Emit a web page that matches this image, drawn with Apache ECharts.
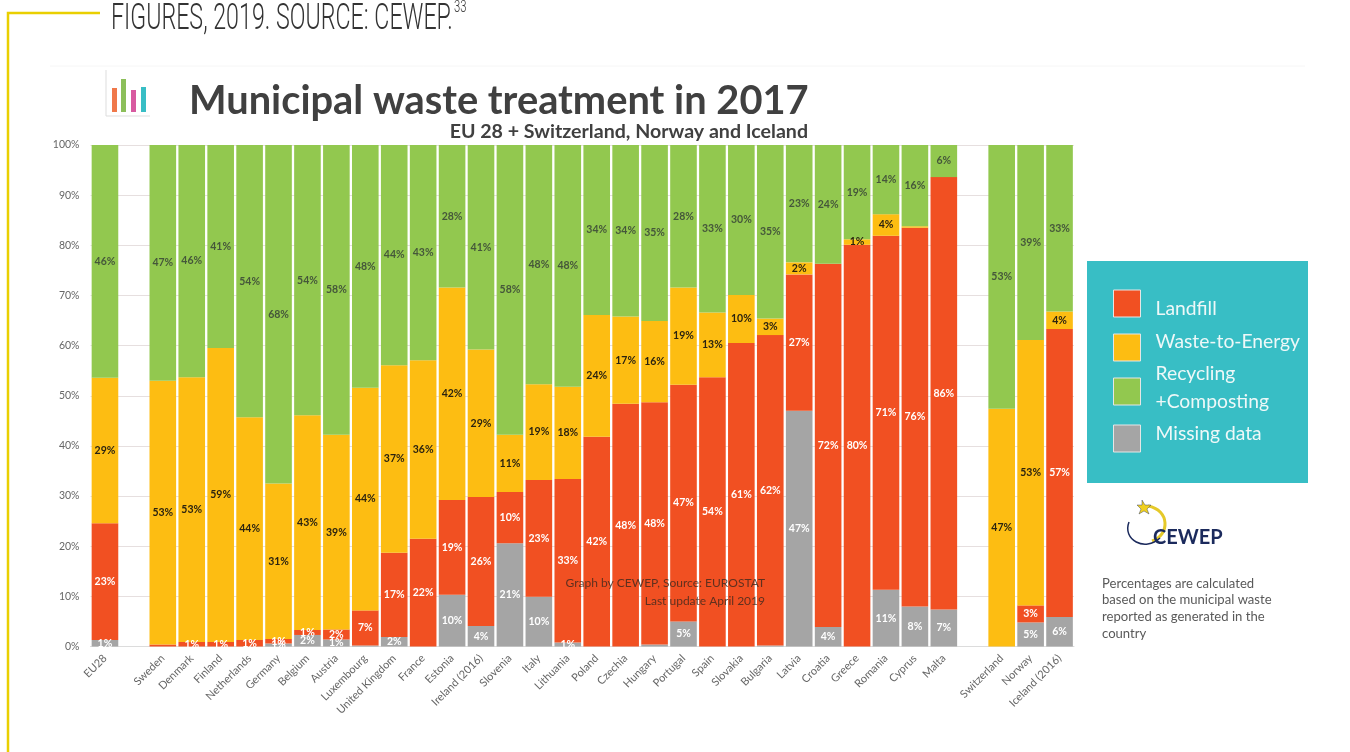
<!DOCTYPE html>
<html><head><meta charset="utf-8">
<style>html,body{margin:0;padding:0;background:#fff}#c{width:1350px;height:752px}</style>
<script src="https://cdn.jsdelivr.net/npm/echarts@6/dist/echarts.min.js"></script>
</head><body><div id="c"></div>
<script>
const categories = ['EU28','','Sweden','Denmark','Finland','Netherlands','Germany','Belgium','Austria','Luxembourg','United Kingdom','France','Estonia','Ireland (2016)','Slovenia','Italy','Lithuania','Poland','Czechia','Hungary','Portugal','Spain','Slovakia','Bulgaria','Latvia','Croatia','Greece','Romania','Cyprus','Malta','','Switzerland','Norway','Iceland (2016)'];
const missing = [1.3,null,0,0,0,0,0.6,2.3,1.4,0.2,1.9,0,10.3,4.1,20.6,9.9,0.8,0,0,0.4,5.0,0,0,0.2,47.0,3.9,0,11.3,8.0,7.4,null,0,4.8,5.9];
const landfill = [23.3,null,0.4,0.9,0.9,1.3,0.9,1.0,2.0,7.0,16.8,21.5,18.9,25.7,10.2,23.3,32.6,41.8,48.4,48.3,47.2,53.7,60.5,61.9,27.2,72.4,80.1,70.6,75.5,86.2,null,0,3.4,57.4];
const wasteToEnergy = [29.0,null,52.6,52.8,58.6,44.4,31.0,42.8,38.8,44.4,37.4,35.6,42.4,29.4,11.4,19.1,18.4,24.3,17.4,16.2,19.4,12.9,9.6,3.3,2.4,0,1.1,4.3,0.3,0,null,47.4,52.9,3.5];
const recycling = [46.4,null,47.0,46.3,40.5,54.3,67.5,53.9,57.8,48.4,43.9,42.9,28.4,40.8,57.8,47.7,48.2,33.9,34.2,35.1,28.4,33.4,29.9,34.6,23.4,23.7,18.8,13.8,16.2,6.4,null,52.6,38.9,33.2];
const yTicksMax = 100, yStep = 10;
const seriesNames = {missing:'Missing data',landfill:'Landfill',wte:'Waste-to-Energy',rec:'Recycling\n+Composting'};
const colors = {missing:'#a5a5a5',landfill:'#f15022',wte:'#fdbd12',rec:'#92c84f'};

const LF = 'Lato, "Open Sans", sans-serif';
function bar(name,data,color,labelColor){
  return {name,type:'bar',stack:'t',data,barCategoryGap:'8%',itemStyle:{color},
    label:{show:true,position:'inside',offset:[0,1],fontFamily:LF,fontSize:10.5,fontWeight:'bold',color:labelColor,
      formatter:p=>{const r=Math.round(p.value);return r>=1?r+'%':'';}},
    labelLayout:{hideOverlap:false},emphasis:{disabled:true}};
}
function leg(name,top,pad,extra){
  return {show:true,data:[name],orient:'vertical',left:1113,top,padding:0,itemWidth:27,itemHeight:27,selectedMode:false,icon:'rect',
    itemStyle:{borderColor:'#e6e6e6',borderWidth:1},
    formatter:n=>n.split('\n').map(s=>'{t|'+s+'}').join('\n')+(extra?'\n{b| }':''),
    textStyle:{rich:{t:{color:'#eef8f8',fontFamily:LF,fontSize:19.3,lineHeight:28,padding:pad},b:{fontSize:1,lineHeight:8}}}};
}
const chart = echarts.init(document.getElementById('c'));
chart.setOption({
  animation:false,backgroundColor:'#fff',
  title:[
    {text:'Municipal waste treatment in 2017',left:184,top:76,textStyle:{fontFamily:LF,fontSize:39.8,fontWeight:'bold',color:'#404040'}},
    {text:'EU 28 + Switzerland, Norway and Iceland',right:537,top:117,textStyle:{fontFamily:LF,fontSize:19.6,fontWeight:'bold',color:'#404040'}}
  ],
  legend:[
    leg(seriesNames.landfill,289,[10,0,0,10]),
    leg(seriesNames.wte,332,[0,0,12,10]),
    leg(seriesNames.rec,364,[0,0,0,10],true),
    leg(seriesNames.missing,424,[0,0,10,10])
  ],
  grid:{left:90.5,right:276,top:145,bottom:105.5,containLabel:false},
  xAxis:{type:'category',data:categories,axisTick:{show:false},
    axisLine:{lineStyle:{color:'#dcdcdc'}},
    axisLabel:{interval:0,rotate:45,fontFamily:LF,fontSize:11,color:'#666',margin:10}},
  yAxis:{type:'value',min:0,max:yTicksMax,interval:yStep,
    axisLine:{show:false},axisTick:{show:false},
    splitLine:{lineStyle:{color:'#e6dfdf',width:1}},
    axisLabel:{formatter:'{value}%',fontFamily:LF,fontSize:10.5,color:'#666',margin:11}},
  series:[
    bar(seriesNames.missing,missing,colors.missing,'#fff'),
    bar(seriesNames.landfill,landfill,colors.landfill,'#fff'),
    bar(seriesNames.wte,wasteToEnergy,colors.wte,'#2b2310'),
    bar(seriesNames.rec,recycling,colors.rec,'#45573a')
  ],
  graphic:[
    {type:'rect',z:-10,shape:{x:1087,y:261,width:221,height:222},style:{fill:'#38bec5'}},
    {type:'line',z:-10,shape:{x1:50,y1:66,x2:1305,y2:66},style:{stroke:'#f6f6f6',lineWidth:1}},
    {type:'polyline',shape:{points:[[100,13],[8,13],[8,752]]},style:{stroke:'#e9cf00',lineWidth:2.5,fill:null}},
    {type:'text',x:111,y:2,scaleX:0.645,style:{text:'FIGURES, 2019. SOURCE: CEWEP.',fill:'#333',font:'300 36px Roboto, sans-serif'}},
    {type:'text',x:454,y:0,scaleX:0.7,style:{text:'33',fill:'#333',font:'300 16px Roboto, sans-serif'}},
    // header icon
    {type:'line',shape:{x1:106,y1:70,x2:106,y2:116},style:{stroke:'#ddd',lineWidth:1}},
    {type:'line',shape:{x1:106,y1:116,x2:150,y2:116},style:{stroke:'#ddd',lineWidth:1}},
    {type:'rect',shape:{x:112,y:88,width:5,height:24},style:{fill:'#f0784a'}},
    {type:'rect',shape:{x:121,y:79,width:5,height:33},style:{fill:'#8cbf5a'}},
    {type:'rect',shape:{x:131,y:90,width:5,height:22},style:{fill:'#d85aa0'}},
    {type:'rect',shape:{x:141,y:87,width:5,height:25},style:{fill:'#38bec5'}},
    // source note
    {type:'text',z:100,x:765,y:577,style:{text:'Graph by CEWEP, Source: EUROSTAT',align:'right',fill:'rgba(60,40,30,.8)',font:'12px '+LF}},
    {type:'text',z:100,x:765,y:595,style:{text:'Last update April 2019',align:'right',fill:'rgba(60,40,30,.8)',font:'12px '+LF}},
    // logo
    {type:'bezierCurve',shape:{x1:1148,y1:506,cpx1:1170,cpy1:510,cpx2:1170,cpy2:535,x2:1152,y2:541},style:{stroke:'#e5c92a',lineWidth:3,fill:null}},
    {type:'bezierCurve',shape:{x1:1129,y1:522,cpx1:1122,cpy1:540,cpx2:1145,cpy2:552,x2:1160,y2:538},style:{stroke:'#1b2a5c',lineWidth:1.5,fill:null}},
    {type:'polygon',shape:{points:[[1142,500],[1145,505],[1151,505],[1147,509],[1149,514],[1144,511],[1139,514],[1141,509],[1137,505],[1142,505]]},style:{fill:'#f0d020',stroke:'#1b2a5c',lineWidth:.4}},
    {type:'text',x:1153,y:528,style:{text:'CEWEP',fill:'#1b2a5c',font:'bold 20px '+LF}},
    // note
    {type:'text',x:1102,y:575,style:{text:'Percentages are calculated\nbased on the municipal waste\nreported as generated in the\ncountry',fill:'#595959',font:'13.1px '+LF,lineHeight:16.7}}
  ]
});
</script></body></html>
